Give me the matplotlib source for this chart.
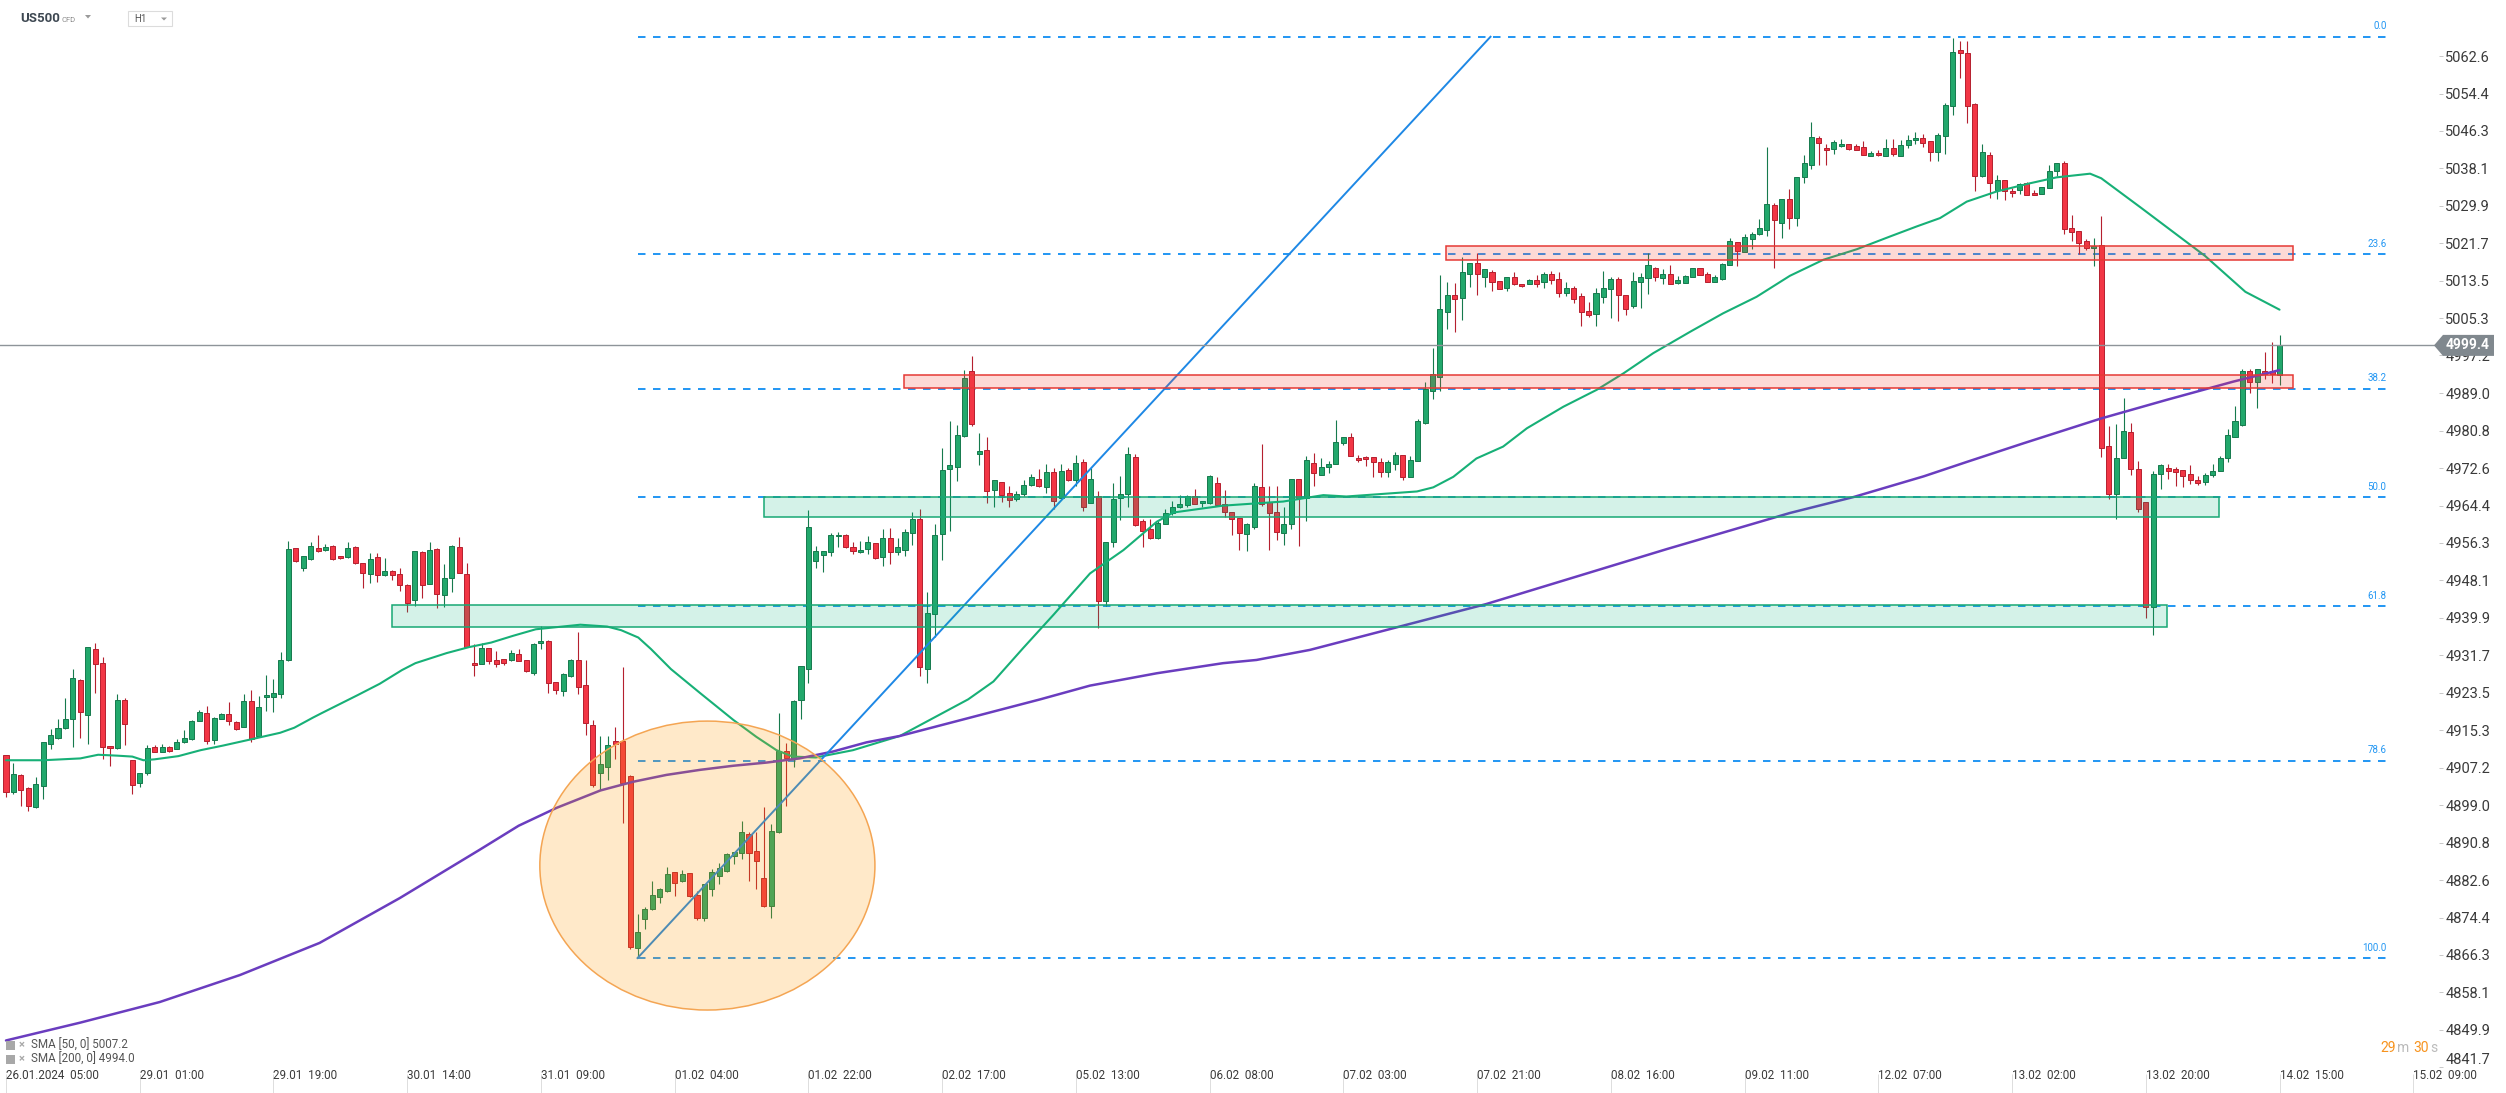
import matplotlib
matplotlib.use('Agg')
import matplotlib.pyplot as plt
from matplotlib import font_manager
from matplotlib.patches import Rectangle, Ellipse, Polygon
from matplotlib.transforms import blended_transform_factory
import numpy as np

plt.rcParams['font.family'] = ['Roboto', 'DejaVu Sans']
plt.rcParams['lines.scale_dashes'] = False

# US500 H1 candles, 26.01.2024 05:00 .. 14.02 15:00
opens = [
    4909.9, 4901.8, 4905.6, 4902.7, 4898.6, 4903.1, 4912.3, 4913.7, 4915.9, 4917.7,
    4926.4, 4918.7, 4933.1, 4930.1, 4911.9, 4911.4, 4921.9, 4908.8, 4903.8, 4906.0,
    4911.6, 4910.7, 4911.8, 4911.3, 4912.8, 4913.4, 4917.4, 4919.1, 4913.3, 4917.8,
    4918.8, 4917.2, 4916.1, 4921.7, 4914.0, 4922.6, 4922.7, 4923.2, 4930.6, 4955.1,
    4950.7, 4952.8, 4955.1, 4954.7, 4955.6, 4953.3, 4953.2, 4955.3, 4951.8, 4949.5,
    4953.2, 4949.2, 4950.2, 4949.5, 4947.1, 4943.7, 4954.3, 4947.3, 4955.0, 4944.8,
    4948.6, 4955.3, 4949.4, 4930.1, 4929.9, 4933.3, 4930.6, 4930.9, 4930.6, 4932.1,
    4930.7, 4927.8, 4934.3, 4934.9, 4925.8, 4924.0, 4927.2, 4930.6, 4925.3, 4916.6,
    4906.1, 4907.3, 4913.0, 4912.9, 4905.3, 4867.7, 4874.1, 4876.4, 4878.9, 4880.2,
    4884.3, 4882.4, 4884.1, 4879.3, 4874.3, 4880.6, 4883.5, 4884.6, 4887.8, 4888.5,
    4892.8, 4888.9, 4883.1, 4876.9, 4893.1, 4910.8, 4909.2, 4921.9, 4928.7, 4952.3,
    4953.6, 4954.2, 4957.7, 4958.1, 4955.3, 4954.3, 4954.9, 4956.2, 4953.1, 4957.3,
    4954.2, 4954.7, 4958.4, 4961.5, 4928.8, 4940.7, 4958.2, 4972.4, 4972.8, 4979.6,
    4993.8, 4975.6, 4976.5, 4967.9, 4969.5, 4967.1, 4965.8, 4966.9, 4968.9, 4970.2,
    4968.4, 4971.7, 4966.0, 4972.2, 4970.0, 4973.9, 4965.0, 4966.5, 4943.5, 4956.4,
    4966.0, 4966.9, 4975.1, 4961.0, 4959.3, 4957.4, 4960.3, 4962.9, 4964.1, 4964.5,
    4966.4, 4965.0, 4964.9, 4969.3, 4964.8, 4963.0, 4961.7, 4958.2, 4959.8, 4968.5,
    4965.3, 4963.0, 4958.4, 4960.4, 4970.2, 4966.0, 4973.8, 4971.0, 4972.9, 4973.4,
    4978.0, 4979.5, 4974.9, 4975.0, 4975.1, 4973.9, 4971.7, 4973.6, 4975.4, 4970.6,
    4974.2, 4982.5, 4989.4, 4992.6, 5006.6, 5010.3, 5009.7, 5015.1, 5017.5, 5014.3,
    5015.4, 5013.4, 5011.9, 5014.3, 5012.8, 5012.7, 5013.6, 5013.2, 5015.1, 5013.8,
    5010.9, 5011.9, 5010.2, 5007.0, 5006.2, 5010.0, 5011.8, 5013.9, 5010.3, 5007.9,
    5013.3, 5014.1, 5016.2, 5014.1, 5015.1, 5013.1, 5013.0, 5014.3, 5016.2, 5015.0,
    5013.3, 5013.9, 5016.9, 5021.9, 5019.9, 5022.6, 5023.7, 5024.7, 5030.0, 5026.2,
    5031.4, 5027.3, 5036.1, 5038.7, 5044.8, 5042.6, 5042.3, 5043.0, 5043.3, 5043.0,
    5042.7, 5040.7, 5041.4, 5040.8, 5042.5, 5040.7, 5043.1, 5044.2, 5044.7, 5044.1,
    5041.7, 5045.2, 5051.6, 5063.9, 5063.2, 5052.2, 5036.3, 5041.0, 5033.4, 5035.5,
    5033.1, 5033.3, 5034.8, 5032.7, 5032.4, 5033.7, 5037.4, 5039.2, 5025.1, 5024.3,
    5022.2, 5020.7, 5021.4, 4977.5, 4967.0, 4974.9, 4980.4, 4972.5, 4965.1, 4942.3,
    4971.4, 4972.7, 4972.5, 4972.1, 4971.4, 4969.9, 4969.6, 4971.0, 4971.9, 4974.7,
    4979.5, 4982.1, 4993.9, 4991.5, 4993.9, 4993.9, 4992.9,
]
highs = [
    4909.9, 4908.2, 4905.9, 4902.9, 4905.2, 4912.8, 4915.7, 4917.7, 4922.3, 4928.7,
    4926.6, 4933.6, 4934.4, 4931.3, 4911.9, 4923.3, 4922.4, 4908.8, 4906.1, 4912.2,
    4912.2, 4912.3, 4911.9, 4913.4, 4915.4, 4917.5, 4919.7, 4920.6, 4918.2, 4919.2,
    4921.5, 4917.3, 4923.2, 4924.1, 4922.9, 4927.5, 4926.6, 4932.4, 4956.6, 4955.2,
    4953.5, 4956.5, 4957.9, 4956.0, 4955.8, 4953.4, 4956.4, 4955.5, 4951.9, 4954.0,
    4954.0, 4952.9, 4950.3, 4950.7, 4947.2, 4954.6, 4954.4, 4956.4, 4955.1, 4951.6,
    4955.7, 4957.6, 4951.9, 4934.1, 4934.4, 4933.4, 4932.6, 4931.0, 4932.8, 4933.0,
    4930.8, 4934.3, 4938.2, 4935.0, 4925.9, 4927.8, 4931.0, 4936.7, 4930.6, 4917.5,
    4914.0, 4914.0, 4916.1, 4929.2, 4905.5, 4875.2, 4876.8, 4882.4, 4881.0, 4885.5,
    4884.4, 4884.8, 4884.2, 4880.3, 4881.8, 4885.1, 4886.3, 4888.5, 4888.8, 4895.5,
    4893.1, 4893.1, 4898.6, 4894.8, 4919.1, 4912.5, 4922.0, 4929.3, 4963.4, 4955.6,
    4954.4, 4958.5, 4958.7, 4958.2, 4956.5, 4956.7, 4957.8, 4956.3, 4959.2, 4959.5,
    4957.3, 4959.4, 4963.0, 4963.6, 4945.5, 4960.4, 4977.0, 4982.9, 4982.0, 4994.0,
    4997.1, 4980.3, 4979.4, 4970.0, 4969.6, 4968.8, 4967.6, 4970.0, 4971.3, 4972.4,
    4973.5, 4972.7, 4973.5, 4972.7, 4975.4, 4974.5, 4972.6, 4967.7, 4956.4, 4969.3,
    4970.8, 4977.2, 4975.7, 4961.5, 4961.5, 4961.1, 4963.7, 4965.5, 4966.8, 4966.8,
    4968.1, 4965.4, 4971.2, 4970.7, 4967.8, 4963.0, 4961.7, 4960.7, 4969.3, 4977.9,
    4968.7, 4968.7, 4964.1, 4970.2, 4970.2, 4975.3, 4975.8, 4974.7, 4974.2, 4983.0,
    4979.5, 4980.2, 4975.4, 4975.3, 4975.1, 4974.7, 4974.3, 4976.2, 4975.4, 4975.3,
    4983.3, 4991.3, 4998.9, 5014.8, 5013.3, 5013.1, 5018.8, 5017.5, 5019.5, 5016.1,
    5015.9, 5013.4, 5014.4, 5015.5, 5012.8, 5013.8, 5014.8, 5015.4, 5015.7, 5015.4,
    5013.3, 5012.3, 5010.9, 5008.9, 5011.9, 5015.7, 5014.4, 5014.4, 5010.3, 5015.5,
    5015.3, 5019.5, 5016.6, 5016.0, 5017.0, 5014.6, 5014.7, 5016.2, 5016.2, 5015.4,
    5014.7, 5017.3, 5022.9, 5021.9, 5023.7, 5024.2, 5027.0, 5042.7, 5030.4, 5031.3,
    5033.5, 5036.1, 5041.0, 5048.2, 5045.2, 5043.4, 5044.3, 5044.5, 5043.4, 5043.3,
    5044.1, 5041.8, 5042.1, 5044.5, 5044.5, 5044.3, 5045.3, 5046.0, 5045.5, 5044.1,
    5045.7, 5052.3, 5066.6, 5065.9, 5065.9, 5052.4, 5043.4, 5041.7, 5036.6, 5035.5,
    5033.7, 5034.9, 5035.0, 5033.4, 5034.0, 5038.8, 5039.2, 5039.7, 5027.9, 5024.3,
    5022.6, 5022.8, 5027.7, 4981.8, 4982.2, 4987.9, 4982.4, 4974.1, 4965.1, 4971.9,
    4973.6, 4973.5, 4972.8, 4972.2, 4973.3, 4970.9, 4971.5, 4973.5, 4975.2, 4981.1,
    4986.1, 4994.2, 4994.2, 4994.2, 4998.0, 5000.1, 5001.7,
]
lows = [
    4900.8, 4901.5, 4898.8, 4897.8, 4898.4, 4900.3, 4911.2, 4913.5, 4915.7, 4911.8,
    4913.6, 4912.4, 4923.5, 4909.0, 4907.6, 4911.2, 4912.2, 4901.5, 4903.0, 4905.6,
    4910.5, 4910.5, 4910.7, 4911.2, 4912.6, 4913.3, 4917.3, 4912.3, 4912.3, 4917.7,
    4916.5, 4915.5, 4916.0, 4912.8, 4913.9, 4919.6, 4919.4, 4922.3, 4930.5, 4952.2,
    4950.1, 4952.6, 4954.3, 4954.5, 4952.6, 4952.7, 4953.0, 4951.7, 4946.5, 4947.5,
    4947.8, 4949.0, 4948.2, 4945.7, 4941.1, 4942.4, 4944.3, 4947.2, 4942.1, 4942.3,
    4945.6, 4949.6, 4933.5, 4927.3, 4929.8, 4929.8, 4929.2, 4929.6, 4930.5, 4930.4,
    4928.1, 4927.4, 4933.2, 4923.5, 4923.3, 4922.9, 4927.0, 4923.2, 4914.3, 4902.9,
    4902.3, 4904.4, 4909.1, 4895.2, 4867.5, 4865.8, 4872.0, 4876.2, 4877.7, 4880.0,
    4879.1, 4882.2, 4879.0, 4873.9, 4873.6, 4879.2, 4881.7, 4884.3, 4886.1, 4887.2,
    4882.5, 4880.7, 4876.8, 4874.3, 4893.0, 4898.7, 4907.4, 4917.7, 4925.6, 4950.7,
    4949.9, 4953.3, 4955.3, 4955.2, 4953.8, 4954.0, 4953.8, 4952.8, 4951.2, 4951.6,
    4953.6, 4953.5, 4955.7, 4927.1, 4925.6, 4935.8, 4952.6, 4958.8, 4969.7, 4979.5,
    4981.9, 4973.2, 4964.9, 4964.0, 4965.3, 4964.2, 4965.5, 4966.6, 4968.8, 4968.4,
    4967.2, 4963.6, 4965.9, 4969.8, 4968.7, 4963.3, 4964.9, 4937.6, 4942.5, 4955.3,
    4961.3, 4964.0, 4960.0, 4955.3, 4957.1, 4957.1, 4960.3, 4962.3, 4963.8, 4964.1,
    4964.7, 4964.2, 4964.8, 4964.4, 4962.0, 4958.1, 4954.8, 4954.4, 4959.3, 4964.4,
    4954.8, 4956.9, 4955.7, 4959.3, 4955.5, 4961.0, 4968.6, 4971.0, 4971.6, 4973.4,
    4977.6, 4975.3, 4973.9, 4973.1, 4970.6, 4970.7, 4970.7, 4972.2, 4969.9, 4970.6,
    4974.2, 4982.2, 4987.7, 4989.4, 5002.9, 5002.4, 5005.0, 5012.2, 5010.4, 5012.2,
    5011.3, 5011.7, 5011.2, 5012.6, 5012.2, 5012.7, 5012.2, 5012.0, 5012.9, 5009.9,
    5010.2, 5008.6, 5003.6, 5005.5, 5003.6, 5008.6, 5005.3, 5004.7, 5006.0, 5007.5,
    5007.6, 5010.6, 5013.5, 5012.8, 5012.7, 5012.8, 5013.0, 5014.3, 5014.7, 5013.3,
    5013.3, 5013.7, 5016.9, 5016.8, 5019.9, 5020.4, 5023.4, 5023.2, 5016.4, 5022.8,
    5024.8, 5025.4, 5034.8, 5038.0, 5038.7, 5038.7, 5041.3, 5042.8, 5042.0, 5042.0,
    5040.9, 5040.7, 5040.7, 5040.8, 5040.8, 5040.7, 5042.5, 5043.3, 5042.7, 5039.6,
    5039.6, 5041.1, 5049.8, 5057.7, 5047.9, 5033.2, 5036.1, 5031.5, 5031.4, 5031.2,
    5031.9, 5032.4, 5032.2, 5032.2, 5032.4, 5033.7, 5036.3, 5023.7, 5022.1, 5019.3,
    5020.3, 5016.8, 4975.0, 4965.9, 4961.5, 4974.9, 4971.2, 4963.1, 4939.9, 4936.2,
    4968.1, 4970.3, 4968.7, 4968.5, 4969.2, 4968.9, 4969.0, 4970.7, 4971.9, 4974.0,
    4979.3, 4981.9, 4989.1, 4985.8, 4992.0, 4991.2, 4990.7,
]
closes = [
    4901.8, 4905.9, 4902.3, 4898.8, 4903.6, 4912.8, 4914.3, 4915.9, 4917.7, 4926.7,
    4919.4, 4933.6, 4929.9, 4911.8, 4911.4, 4921.9, 4916.7, 4903.5, 4906.1, 4911.4,
    4910.7, 4911.6, 4910.8, 4912.8, 4913.7, 4917.4, 4919.4, 4912.9, 4918.1, 4918.8,
    4917.4, 4915.6, 4921.7, 4913.5, 4920.5, 4923.0, 4923.5, 4930.6, 4954.9, 4952.4,
    4953.3, 4955.6, 4954.4, 4955.4, 4952.8, 4952.9, 4955.1, 4951.9, 4949.7, 4952.7,
    4949.2, 4950.2, 4949.3, 4947.1, 4943.2, 4954.5, 4947.1, 4954.7, 4945.0, 4948.7,
    4955.6, 4949.7, 4933.6, 4929.6, 4933.3, 4930.4, 4929.8, 4930.1, 4932.3, 4930.5,
    4928.3, 4934.2, 4934.8, 4925.7, 4924.1, 4927.7, 4930.8, 4924.8, 4917.0, 4903.3,
    4907.9, 4912.1, 4912.4, 4903.9, 4868.0, 4871.2, 4876.3, 4879.3, 4880.7, 4883.9,
    4882.1, 4883.9, 4879.1, 4874.3, 4881.7, 4884.5, 4885.2, 4888.3, 4888.7, 4893.1,
    4888.5, 4886.9, 4876.9, 4893.3, 4910.8, 4909.2, 4921.8, 4929.3, 4959.7, 4954.4,
    4954.4, 4958.1, 4958.1, 4955.3, 4954.4, 4954.7, 4956.5, 4953.0, 4957.3, 4954.2,
    4955.3, 4958.6, 4961.5, 4929.1, 4940.9, 4958.0, 4972.2, 4973.2, 4979.8, 4992.2,
    4982.3, 4976.3, 4967.5, 4970.0, 4966.8, 4965.6, 4966.9, 4968.9, 4970.7, 4968.6,
    4971.7, 4965.4, 4971.9, 4970.0, 4973.7, 4964.2, 4970.2, 4943.5, 4956.4, 4965.8,
    4966.9, 4975.6, 4960.1, 4958.8, 4957.4, 4960.6, 4962.9, 4964.1, 4964.8, 4966.5,
    4964.7, 4965.4, 4970.9, 4964.6, 4963.0, 4961.4, 4958.4, 4960.4, 4968.7, 4964.8,
    4962.8, 4958.6, 4960.4, 4970.2, 4966.0, 4974.3, 4971.6, 4972.9, 4973.4, 4978.2,
    4979.5, 4975.3, 4974.4, 4974.5, 4974.0, 4971.7, 4973.9, 4975.5, 4970.7, 4974.3,
    4982.9, 4989.8, 4993.1, 5007.3, 5010.3, 5009.6, 5015.4, 5017.5, 5014.9, 5016.1,
    5013.2, 5011.8, 5014.4, 5012.7, 5012.4, 5013.6, 5012.7, 5015.0, 5013.6, 5010.9,
    5012.0, 5009.6, 5006.6, 5006.0, 5010.9, 5011.9, 5013.9, 5010.3, 5007.4, 5013.5,
    5014.3, 5016.9, 5014.4, 5015.0, 5012.7, 5013.6, 5014.6, 5016.2, 5014.7, 5013.3,
    5014.3, 5017.2, 5022.2, 5020.1, 5023.0, 5023.7, 5025.1, 5030.2, 5026.8, 5031.3,
    5027.2, 5036.1, 5039.2, 5044.9, 5043.6, 5042.1, 5043.9, 5043.3, 5042.3, 5042.1,
    5040.9, 5041.4, 5040.9, 5042.5, 5041.2, 5043.1, 5044.2, 5044.7, 5043.6, 5041.6,
    5045.4, 5051.9, 5063.4, 5063.2, 5051.6, 5036.4, 5041.6, 5034.8, 5035.5, 5033.2,
    5032.6, 5034.6, 5032.2, 5032.2, 5034.0, 5037.5, 5039.2, 5024.8, 5024.1, 5021.7,
    5020.6, 5021.2, 4977.0, 4967.0, 4974.9, 4980.8, 4972.5, 4963.7, 4942.3, 4971.4,
    4973.2, 4972.0, 4971.8, 4970.9, 4969.9, 4969.4, 4971.2, 4971.9, 4974.9, 4979.9,
    4982.8, 4993.9, 4991.5, 4994.2, 4993.1, 4993.1, 4999.4,
]

# moving averages (candle index, price)
sma50_x = [0, 5, 10, 12.4, 15, 17, 18.5, 20, 23.2, 26.2, 29.2, 32.8, 36.9, 38.8, 41.3, 42.5,
           47.3, 50.3, 53.3, 55.1, 59.3, 62.3, 65.3, 68.3, 71.3, 77.3, 80.9, 82.8, 85.1, 86.8,
           89.5, 93.4, 97.9, 101, 103.7, 105.9, 109, 114, 120.3, 129.5, 132.9, 136.9, 141,
           145.9, 150.4, 154.9, 157.1, 163.8, 171.9, 177.3, 180.4, 189.9, 192.1, 194.8, 197.9,
           201.5, 204.7, 209.6, 214.1, 217.7, 221.7, 226.7, 231.1, 235.6, 240.1, 244.6, 249.1,
           253.6, 257.2, 260.3, 263.9, 267.9, 272.4, 276, 280.5, 282, 287.4, 296, 301.4, 306]
sma50_y = [4908.8, 4908.8, 4909.2, 4910.0, 4909.8, 4909.6, 4908.8, 4909.0, 4909.7, 4911.0,
           4912.0, 4913.3, 4914.8, 4915.9, 4918.1, 4919.1, 4923.0, 4925.5, 4928.5, 4930.0,
           4932.2, 4933.5, 4934.5, 4936.0, 4937.4, 4938.4, 4938.0, 4937.2, 4935.6, 4933.1,
           4928.7, 4923.5, 4917.6, 4913.9, 4911.0, 4909.6, 4909.4, 4911.0, 4914.1, 4922.1,
           4926.0, 4933.3, 4940.6, 4949.6, 4954.7, 4960.9, 4962.9, 4964.4, 4965.3, 4966.7,
           4966.4, 4967.5, 4968.4, 4970.7, 4974.7, 4977.3, 4981.3, 4986.0, 4989.7, 4993.3,
           4997.7, 5002.4, 5006.4, 5010.0, 5014.6, 5018.1, 5020.4, 5023.2, 5025.4, 5027.2,
           5030.8, 5033.0, 5034.8, 5036.1, 5036.9, 5035.9, 5029.4, 5018.9, 5011.1, 5007.2]
sma200_x = [0, 10, 20.7, 31.5, 42.2, 53, 63.7, 69, 74.1, 80, 84.4, 88.9, 93.4, 97.9, 102.4,
            106.8, 111.3, 115.8, 120.3, 139.2, 145.9, 154.9, 163.8, 168.3, 175.5, 199.2,
            223.5, 240.1, 248.7, 258.1, 264, 271.5, 281.9, 290.8, 299.8, 306]
sma200_y = [4847.6, 4851.5, 4856.0, 4861.9, 4868.9, 4878.7, 4889.2, 4894.5, 4898.4, 4902.2,
            4904.1, 4905.6, 4906.7, 4907.6, 4908.3, 4909.2, 4910.7, 4912.7, 4914.1, 4922.1,
            4925.1, 4927.8, 4930.0, 4930.7, 4932.9, 4942.9, 4954.9, 4962.8, 4966.3, 4970.8,
            4974.0, 4978.0, 4983.4, 4987.5, 4991.5, 4994.0]

date_labels = ['26.01.2024  05:00', '29.01  01:00', '29.01  19:00', '30.01  14:00',
               '31.01  09:00', '01.02  04:00', '01.02  22:00', '02.02  17:00',
               '05.02  13:00', '06.02  08:00', '07.02  03:00', '07.02  21:00',
               '08.02  16:00', '09.02  11:00', '12.02  07:00', '13.02  02:00',
               '13.02  20:00', '14.02  15:00', '15.02  09:00']
date_ticks = list(range(0, 18 * len(date_labels), 18))
price_ticks = [5062.6, 5054.4, 5046.3, 5038.1, 5029.9, 5021.7, 5013.5, 5005.3, 4997.2,
               4989.0, 4980.8, 4972.6, 4964.4, 4956.3, 4948.1, 4939.9, 4931.7, 4923.5,
               4915.3, 4907.2, 4899.0, 4890.8, 4882.6, 4874.4, 4866.3, 4858.1, 4849.9,
               4841.7]

# fibonacci retracement drawn from the 01.02 low to the 12.02 high
fib_pcts = [0.0, 23.6, 38.2, 50.0, 61.8, 78.6, 100.0]
fib_high = 5066.8
fib_low = 4865.6
fib_start, fib_end = 85, 320.6

# trend line and support / resistance boxes (candle index, price)
trend_x = [85, 199.8]
trend_y = [4865.6, 5066.8]
red_zones = [(120.9, 307.8, 4990.0, 4993.0), (193.8, 307.8, 5018.0, 5021.1)]
green_zones = [(52.0, 290.9, 4937.9, 4942.8), (102.0, 297.9, 4961.9, 4966.2)]
circle = (94.4, 4885.8, 45.1, 63.1)

last_price = 4999.4
sma50_last, sma200_last = 5007.2, 4994.0

W, H = 2506, 1093
fig = plt.figure(figsize=(W / 100, H / 100), dpi=100)
fig.patch.set_facecolor('white')
ax = fig.add_axes([0, 0, 2439 / W, 1])
ax.set_xlim(-0.8075, 327.46)
ax.set_ylim(4836.13, 5074.83)
for s in ax.spines.values():
    s.set_visible(False)

o = np.array(opens)
h = np.array(highs)
l = np.array(lows)
c = np.array(closes)
x = np.arange(len(o))
up = c >= o
body = np.where(up, '#22A86C', '#F23645')
edge = np.where(up, '#167A4D', '#B5202F')
ax.vlines(x, l, h, colors=edge, linewidth=0.8, zorder=3)
ax.bar(x, np.maximum(np.abs(c - o), 0.25), bottom=np.minimum(o, c), width=0.68,
       color=body, edgecolor=edge, linewidth=0.7, zorder=3)

ax.plot(sma50_x, sma50_y, color='#17B077', linewidth=1.5, zorder=4,
        solid_capstyle='round', solid_joinstyle='round')
ax.plot(sma200_x, sma200_y, color='#6A3DBF', linewidth=1.8, zorder=4,
        solid_capstyle='round', solid_joinstyle='round')
ax.plot(trend_x, trend_y, color='#1E88E5', linewidth=1.4, zorder=4)

rng = fib_high - fib_low
for p in fib_pcts:
    lvl = fib_high - rng * p / 100
    ax.plot([fib_start, fib_end], [lvl, lvl], color='#2196F3', linewidth=1.4,
            dashes=(5.4, 5.4), zorder=2)
    ax.text(fib_end - 0.2, lvl + 1.2, '%.1f' % p, color='#2196F3', fontsize=7,
            ha='right', va='bottom', zorder=5)

for x0, x1, y0, y1 in red_zones:
    ax.add_patch(Rectangle((x0, y0), x1 - x0, y1 - y0, facecolor=(0.96, 0.26, 0.21, 0.2),
                           edgecolor='#E53935', linewidth=1.1, zorder=6))
for x0, x1, y0, y1 in green_zones:
    ax.add_patch(Rectangle((x0, y0), x1 - x0, y1 - y0, facecolor=(0.0, 0.7, 0.47, 0.17),
                           edgecolor='#18A874', linewidth=1.1, zorder=6))
cx, cy, cw, ch = circle
ax.add_patch(Ellipse((cx, cy), cw, ch, facecolor=(1.0, 0.6, 0.0, 0.21),
                     edgecolor='#F4A553', linewidth=1.1, zorder=6))

ax.axhline(last_price, color='#8E9499', linewidth=1.0, zorder=5)

# price axis on the right; the lowest label sits a bit higher, above the dates
ax.yaxis.tick_right()
ax.set_yticks(price_ticks)
ax.set_yticklabels(['%.1f' % v for v in price_ticks[:-1]] + [''])
ax.tick_params(axis='y', length=3, width=0.7, color='#C8C8C8', pad=1.5,
               labelsize=10.5, labelcolor='#3A3A3A')
fig.text(2445.5 / W, 1 - 1060 / H, '%.1f' % price_ticks[-1], fontsize=10.5,
         color='#3A3A3A', va='center', ha='left')

names = {f.name for f in font_manager.fontManager.ttflist}
if 'Liberation Sans Narrow' in names:
    narrow, nsize = 'Liberation Sans Narrow', 10
else:
    narrow, nsize = 'Roboto', 8.4
ax.set_xticks(date_ticks)
ax.set_xticklabels(date_labels, ha='left', fontfamily=narrow)
ax.tick_params(axis='x', direction='in', length=14, width=0.7, color='#DDDDDD',
               pad=-17.5, labelsize=nsize, labelcolor='#3A3A3A')

# last price tag
bt = blended_transform_factory(fig.transFigure, ax.transData)
hh = 10.5 / 4.579
tag = Polygon([(2434 / W, last_price), (2443 / W, last_price + hh), (2494 / W, last_price + hh),
               (2494 / W, last_price - hh), (2443 / W, last_price - hh)], closed=True,
              transform=bt, facecolor='#80888E', edgecolor='none', zorder=20, clip_on=False)
ax.add_patch(tag)
ax.text(2468 / W, last_price, '%.1f' % last_price, transform=bt, ha='center', va='center',
        color='white', fontsize=10, fontweight='bold', zorder=21, clip_on=False)

# header
fig.text(20 / W, 1 - 18 / H, 'US500', fontsize=9.5, fontweight='bold', color='#3E4852',
         va='center', ha='left')
fig.text(61 / W, 1 - 19.5 / H, 'CFD', fontsize=5.5, color='#8A8A8A', va='center', ha='left')
fig.patches.append(Polygon([(85 / W, 1 - 15 / H), (91 / W, 1 - 15 / H), (88 / W, 1 - 18.5 / H)],
                           closed=True, transform=fig.transFigure, facecolor='#9A9A9A',
                           edgecolor='none'))
fig.patches.append(Rectangle((128 / W, 1 - 26 / H), 44 / W, 15 / H, transform=fig.transFigure,
                             facecolor='white', edgecolor='#DCDCDC', linewidth=0.8))
fig.text(134 / W, 1 - 19.5 / H, 'H1', fontsize=7, color='#555555', va='center', ha='left')
fig.patches.append(Polygon([(161 / W, 1 - 17.5 / H), (167 / W, 1 - 17.5 / H), (164 / W, 1 - 20.5 / H)],
                           closed=True, transform=fig.transFigure, facecolor='#9A9A9A',
                           edgecolor='none'))

# indicator legend
for txt, yy in [('SMA [50, 0] %.1f' % sma50_last, 1045),
                ('SMA [200, 0] %.1f' % sma200_last, 1059.5)]:
    fig.patches.append(Rectangle((6 / W, 1 - (yy + 4.5) / H), 9 / W, 9 / H,
                                 transform=fig.transFigure, facecolor='#A8A8A8',
                                 edgecolor='none'))
    fig.text(21.5 / W, 1 - yy / H, '×', fontsize=8, color='#A8A8A8', fontweight='bold',
             va='center', ha='center')
    fig.text(31 / W, 1 - yy / H, txt, fontsize=nsize * 1.0, family=narrow, color='#555555',
             va='center', ha='left')

# candle countdown
for txt, xx, col in [('29', 2380, '#F7931E'), ('m', 2397, '#BBBBBB'),
                     ('30', 2413, '#F7931E'), ('s', 2430, '#BBBBBB')]:
    fig.text(xx / W, 1 - 1048 / H, txt, fontsize=10, color=col, va='center', ha='left')

fig.savefig('out.png', dpi=100, facecolor='white')
